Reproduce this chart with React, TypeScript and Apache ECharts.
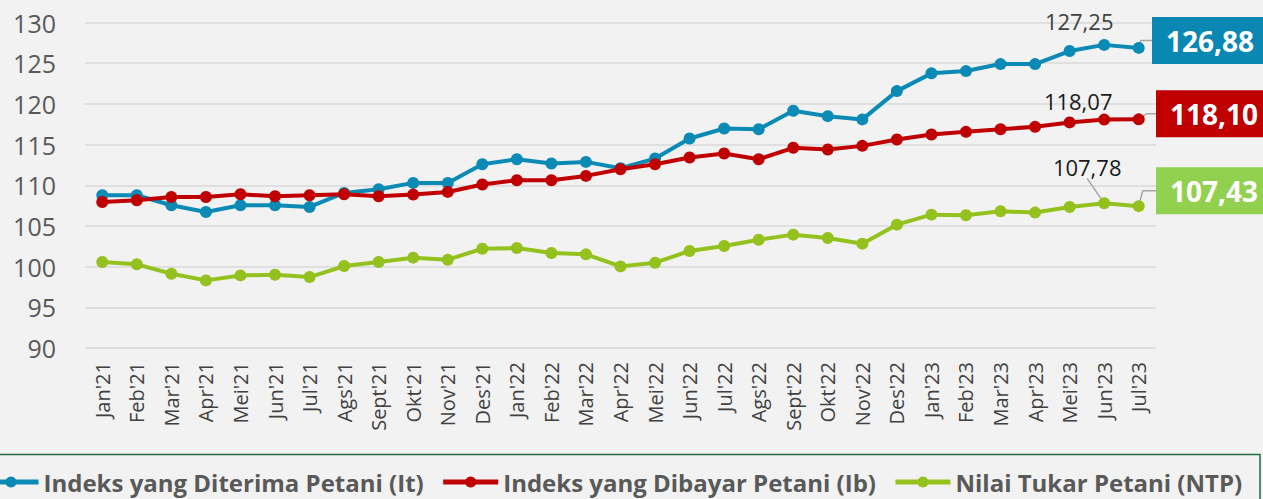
import React, { useEffect, useRef } from "react";
import * as echarts from "echarts";

const categories = [
  "Jan'21", "Feb'21", "Mar'21", "Apr'21", "Mei'21", "Jun'21", "Jul'21", "Ags'21", "Sept'21", "Okt'21", "Nov'21", "Des'21",
  "Jan'22", "Feb'22", "Mar'22", "Apr'22", "Mei'22", "Jun'22", "Jul'22", "Ags'22", "Sept'22", "Okt'22", "Nov'22", "Des'22",
  "Jan'23", "Feb'23", "Mar'23", "Apr'23", "Mei'23", "Jun'23", "Jul'23",
];

const itValues = [
  108.77, 108.77, 107.54, 106.72, 107.54, 107.54, 107.33, 109.06, 109.51, 110.29, 110.29, 112.58,
  113.2, 112.67, 112.87, 112.1, 113.28, 115.74, 116.97, 116.89, 119.15, 118.49, 118.09, 121.57,
  123.75, 124.03, 124.89, 124.89, 126.49, 127.25, 126.88,
];

const ibValues = [
  107.95, 108.15, 108.56, 108.56, 108.89, 108.65, 108.77, 108.89, 108.65, 108.85, 109.18, 110.09,
  110.62, 110.62, 111.15, 111.97, 112.58, 113.41, 113.9, 113.2, 114.6, 114.39, 114.84, 115.62,
  116.24, 116.56, 116.89, 117.18, 117.72, 118.07, 118.1,
];

const ntpValues = [
  100.56, 100.28, 99.13, 98.31, 98.92, 99.0, 98.72, 100.07, 100.56, 101.1, 100.85, 102.2,
  102.29, 101.67, 101.51, 100.03, 100.48, 101.92, 102.54, 103.31, 103.93, 103.52, 102.82, 105.16,
  106.39, 106.31, 106.8, 106.64, 107.33, 107.78, 107.43,
];

const seriesNames = [
  "Indeks yang Diterima Petani (It)",
  "Indeks yang Dibayar Petani (Ib)",
  "Nilai Tukar Petani (NTP)",
];

const yTicks = { min: 90, max: 130, interval: 5 };

const FONT = "'Open Sans', 'Noto Sans', sans-serif";
const fmt = (v: number) => v.toFixed(2).replace(".", ",");

export default function App() {
  const ref = useRef<HTMLDivElement>(null);

  useEffect(() => {
    document.body.style.margin = "0";
    if (!ref.current) return;
    const chart = echarts.init(ref.current, undefined, { renderer: "svg" });

    const lineColors = ["#0B8AB5", "#C00000", "#95C11F"];
    const boxColors = ["#0B87B3", "#C00000", "#92D050"];
    const prevOffsets = [
      { dx: -25, dy: -2, color: "#404040", line: false },
      { dx: -26, dy: 3, color: "#1a1a1a", line: false },
      { dx: -17, dy: -14, color: "#1a1a1a", line: true },
    ];
    const boxLayout = [
      { x: 1152, dy: -7.3, kink: 2, padding: [8, 10, 8, 14] },
      { x: 1156, dy: -5.7, kink: 8, padding: [8, 10, 8, 14] },
      { x: 1156, dy: -15.4, kink: 4, padding: [8, 10, 8, 14] },
    ];
    const allValues = [itValues, ibValues, ntpValues];
    const last = categories.length - 1;

    const series = allValues.map((vals, s) => ({
      name: seriesNames[s],
      type: "line",
      symbol: "circle",
      symbolSize: 12,
      z: s === 2 ? 3 : 3 + s,
      lineStyle: { width: 4, color: lineColors[s] },
      itemStyle: { color: lineColors[s] },
      emphasis: { disabled: true },
      data: vals.map((v, i) => {
        if (i === last - 1) {
          return {
            value: v,
            label: {
              show: true,
              position: "top",
              formatter: fmt(v),
              fontFamily: FONT,
              fontSize: 22,
              color: prevOffsets[s].color,
            },
            labelLine: prevOffsets[s].line
              ? { show: true, lineStyle: { color: "#A6A6A6", width: 1.5 } }
              : { show: false },
          };
        }
        if (i === last) {
          return {
            value: v,
            label: {
              show: true,
              position: "right",
              formatter: fmt(v),
              fontFamily: FONT,
              fontSize: 28,
              fontWeight: "bold",
              color: "#FFFFFF",
              lineHeight: 31,
              backgroundColor: boxColors[s],
              padding: boxLayout[s].padding,
            },
          };
        }
        return v;
      }),
      labelLayout: (p: any) => {
        if (p.dataIndex === last - 1) {
          return { dx: prevOffsets[s].dx, dy: prevOffsets[s].dy };
        }
        if (p.dataIndex === last) {
          return {
            x: boxLayout[s].x,
            y: p.rect.y + p.rect.height / 2 + boxLayout[s].dy,
            align: "left",
            verticalAlign: "middle",
          };
        }
        return {};
      },
    }));

    chart.setOption({
      animation: false,
      backgroundColor: "#F2F2F2",
      textStyle: { fontFamily: FONT },
      grid: { left: 85, right: 107, top: 22.5, bottom: 151 },
      xAxis: {
        type: "category",
        data: categories,
        boundaryGap: true,
        axisLine: { show: false },
        axisTick: { show: false },
        axisLabel: {
          rotate: 90,
          interval: 0,
          fontSize: 20,
          color: "#404040",
          fontFamily: FONT,
          margin: 14,
        },
      },
      yAxis: {
        type: "value",
        min: yTicks.min,
        max: yTicks.max,
        interval: yTicks.interval,
        axisLine: { show: false },
        axisTick: { show: false },
        axisLabel: { fontSize: 25, color: "#595959", fontFamily: FONT, margin: 29 },
        splitLine: { lineStyle: { color: "#D9D9D9", width: 1.5 } },
      },
      legend: {
        data: seriesNames,
        left: -19,
        top: 470,
        padding: 0,
        itemWidth: 55,
        itemHeight: 14,
        itemGap: 17,
        lineStyle: { width: 5 },
        textStyle: { fontFamily: FONT, fontSize: 24, fontWeight: "bold", color: "#595959" },
      },
      series,
    });

    // leader lines from the last point of each series to its value box
    const leaders = allValues.map((vals, s) => {
      const pt = chart.convertToPixel({ seriesIndex: s }, [last, vals[last]]) as number[];
      const by = pt[1] + boxLayout[s].dy;
      return {
        type: "polyline",
        silent: true,
        z: 1,
        shape: {
          points: [
            [pt[0], pt[1]],
            [pt[0] + boxLayout[s].kink, by],
            [boxLayout[s].x, by],
          ],
        },
        style: { stroke: "#A6A6A6", lineWidth: 1.5, fill: "none" },
      };
    });

    chart.setOption({
      graphic: [
        {
          type: "rect",
          silent: true,
          z: 0,
          shape: { x: -10, y: 454.5, width: 1270, height: 70 },
          style: { fill: "none", stroke: "#1E6E42", lineWidth: 1.5 },
        },
        ...leaders,
      ],
    });

    return () => chart.dispose();
  }, []);

  return <div ref={ref} style={{ position: "fixed", left: 0, top: 0, width: 1263, height: 499 }} />;
}
